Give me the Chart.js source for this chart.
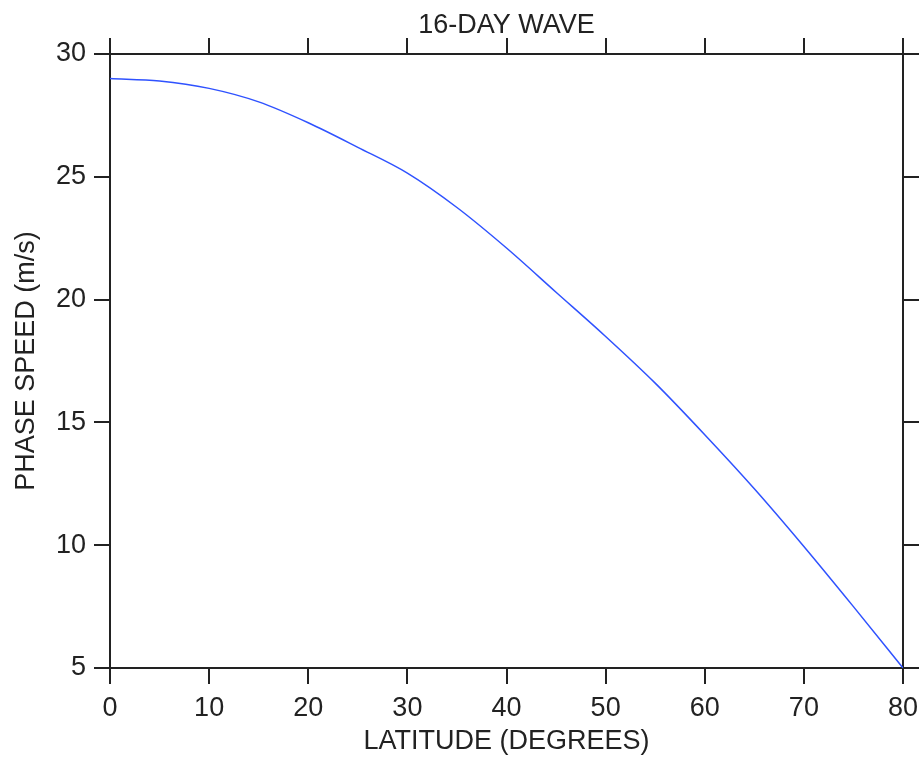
<!DOCTYPE html>
<html>
<head>
<meta charset="utf-8">
<script src="https://cdn.jsdelivr.net/npm/chart.js@4"></script>
<style>
  html, body { margin: 0; padding: 0; background: #fff; }
  canvas { display: block; }
</style>
</head>
<body>
<canvas id="waveChart" width="922" height="760"></canvas>
<script>
// latitudes (degrees) and phase speed (m/s)
const latitudes = [0, 5, 10, 15, 20, 25, 30, 35, 40, 45, 50, 55, 60, 65, 70, 75, 80];
const phaseSpeed = [29.0, 28.9, 28.6, 28.05, 27.2, 26.2, 25.15, 23.75, 22.1, 20.3, 18.5, 16.6, 14.5, 12.3, 9.95, 7.5, 5.0];
const xTicks = [0, 10, 20, 30, 40, 50, 60, 70, 80];
const yTicks = [5, 10, 15, 20, 25, 30];

const axisColor = '#222';
const fontFamily = '"Liberation Sans", Arial, sans-serif';

function tickGrid() {
    return { drawOnChartArea: false, drawTicks: true, tickLength: 16, color: axisColor, lineWidth: 2 };
}
function border() {
    return { display: true, color: axisColor, width: 2 };
}
// no extra room for the end labels, plot box is fixed
function noPad(s) {
    s.paddingLeft = 0; s.paddingRight = 0; s.paddingTop = 0; s.paddingBottom = 0;
}

const ctx = document.getElementById('waveChart').getContext('2d');
new Chart(ctx, {
    type: 'line',
    data: {
        datasets: [{
            data: latitudes.map((lat, i) => ({ x: lat, y: phaseSpeed[i] })),
            borderColor: '#2f52ff',
            borderWidth: 1.5,
            pointRadius: 0,
            fill: false,
            cubicInterpolationMode: 'monotone'
        }]
    },
    options: {
        responsive: false,
        animation: false,
        devicePixelRatio: 1,
        layout: { padding: 0 },
        plugins: { legend: { display: false }, tooltip: { enabled: false } },
        scales: {
            x: {
                type: 'linear', position: 'bottom', min: 0, max: 80,
                afterBuildTicks: s => { s.ticks = xTicks.map(v => ({ value: v })); },
                afterFit: s => { s.height = 92; noPad(s); },
                grid: tickGrid(), border: border(),
                ticks: { color: axisColor, padding: 8, maxRotation: 0, font: { family: fontFamily, size: 27 } },
                title: { display: true, text: 'LATITUDE (DEGREES)', color: axisColor, padding: { top: 0, bottom: 2 }, font: { family: fontFamily, size: 27 } }
            },
            xTop: {
                type: 'linear', position: 'top', min: 0, max: 80,
                afterBuildTicks: s => { s.ticks = xTicks.map(v => ({ value: v })); },
                afterFit: s => { s.height = 54; noPad(s); },
                grid: tickGrid(), border: border(),
                ticks: { display: false },
                title: { display: true, text: '16-DAY WAVE', color: axisColor, padding: { top: 9, bottom: 0 }, font: { family: fontFamily, size: 27 } }
            },
            y: {
                type: 'linear', position: 'left', min: 5, max: 30,
                afterBuildTicks: s => { s.ticks = yTicks.map(v => ({ value: v })); },
                afterFit: s => { s.width = 110; noPad(s); },
                grid: tickGrid(), border: border(),
                ticks: { color: axisColor, padding: 8, font: { family: fontFamily, size: 27 } },
                title: { display: true, text: 'PHASE SPEED (m/s)', color: axisColor, padding: { top: 10, bottom: 0 }, font: { family: fontFamily, size: 27 } }
            },
            yRight: {
                type: 'linear', position: 'right', min: 5, max: 30,
                afterBuildTicks: s => { s.ticks = yTicks.map(v => ({ value: v })); },
                afterFit: s => { s.width = 19; noPad(s); },
                grid: tickGrid(), border: border(),
                ticks: { display: false }
            }
        }
    }
});
</script>
</body>
</html>
